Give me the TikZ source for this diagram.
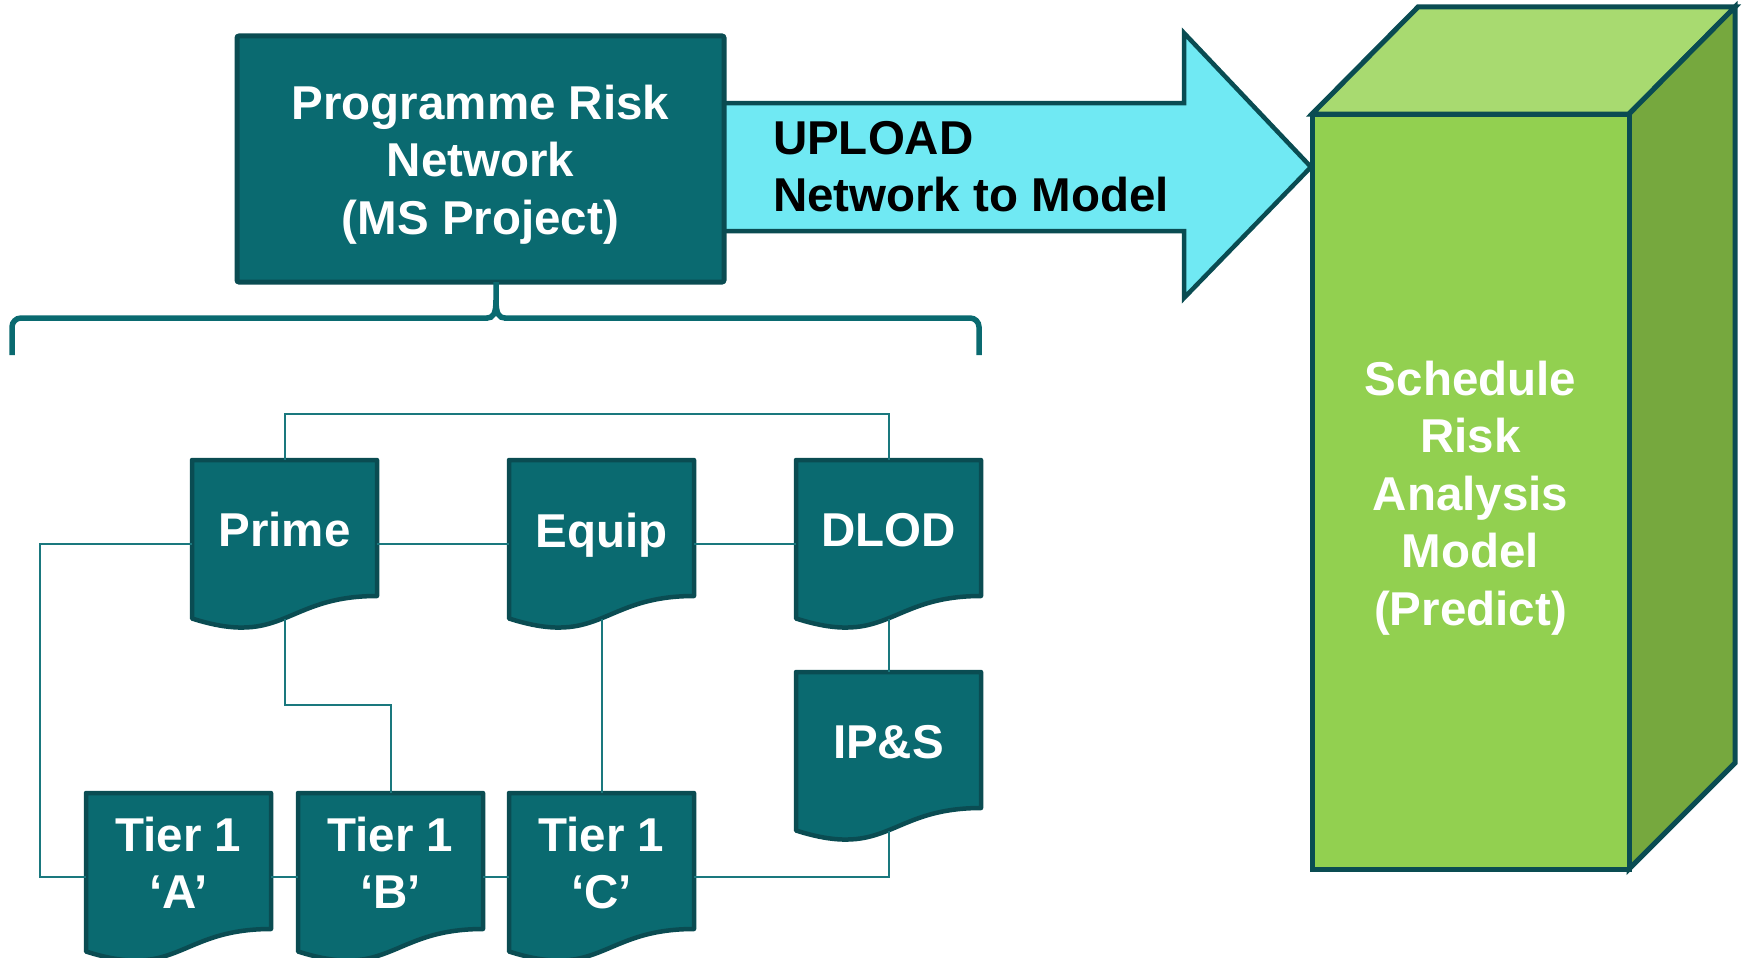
\documentclass[tikz,border=0pt]{standalone}
\usepackage{fontspec}
\setmainfont{Liberation Sans}
\definecolor{tealfill}{RGB}{10,106,112}
\definecolor{tealdark}{RGB}{10,76,82}
\definecolor{connteal}{RGB}{26,120,126}
\definecolor{arrowcyan}{RGB}{112,233,243}
\definecolor{gfront}{RGB}{146,208,80}
\definecolor{gtop}{RGB}{168,218,112}
\definecolor{gside}{RGB}{118,168,62}
\tikzset{
  bigfont/.style={font=\fontsize{47.5}{57.5}\selectfont\bfseries, inner sep=0, outer sep=0},
  docshape/.style={fill=tealfill, draw=tealdark, line width=4.5, line join=round},
  docnode/.style={bigfont, text=white, align=center, minimum width=185, minimum height=140, anchor=north west},
  conn/.style={draw=connteal, line width=2},
  bracestyle/.style={draw=tealfill, line width=5.5},
  cubeline/.style={draw=tealdark, line width=5, line join=miter},
}
\newcommand\docbox[4]{%
  \begin{scope}[shift={(#2,#3)}]
    \path[docshape] (0,0) -- (185,0) -- (185,136) .. controls (92.5,136) and (92.5,188) .. (0,158.5) -- cycle;
  \end{scope}
  \node[docnode] (#1) at (#2,#3) {#4};}
\begin{document}
\begin{tikzpicture}[x=1pt,y=-1pt]
\useasboundingbox (0,0) rectangle (1743,958);

% upload arrow
\fill[arrowcyan] (720,103) -- (1184,103) -- (1184,33) -- (1311,167) -- (1184,298) -- (1184,231) -- (720,231) -- cycle;
\draw[draw=tealdark, line width=4.5, line join=miter] (720,103) -- (1184,103) -- (1184,33) -- (1311,167) -- (1184,298) -- (1184,231) -- (720,231);
\node[bigfont, align=left, anchor=north west, text=black] (upload) at (773,121) {UPLOAD\\Network to Model};

% title box
\node[draw=tealdark, fill=tealfill, line width=5, rounded corners=2, minimum width=487, minimum height=246, inner sep=0, outer sep=0] (title) at (480.5,159) {};
\node[bigfont, align=center, anchor=north, text=white] (titletext) at (480.5,85) {Programme Risk\\Network\\(MS Project)};

% brace
\draw[bracestyle, rounded corners=9] (12,355) -- (12,318) -- (488,318);
\draw[bracestyle, rounded corners=9] (979,355) -- (979,318) -- (504,318);
\draw[bracestyle] (487,318) .. controls (493,318) and (496,314) .. (496,300) -- ([xshift=15.5]title.south);
\draw[bracestyle] (505,318) .. controls (499,318) and (496,314) .. (496,300);

% cube
\draw[cubeline, fill=gtop] (1312,114) -- (1418,7) -- (1735,7) -- (1629,114) -- cycle;
\draw[cubeline, fill=gside] (1629,114) -- (1735,7) -- (1735,763) -- (1629,869) -- cycle;
\draw[cubeline, fill=gfront] (1312,114) rectangle (1629,869);
\node[bigfont, align=center, anchor=north, text=white] (srm) at (1470.5,361) {Schedule\\Risk\\Analysis\\Model\\(Predict)};

% document boxes
\docbox{Prime}{192}{460}{Prime}
\docbox{Equip}{509}{460}{\raisebox{0pt}[\height][0pt]{Equip}}
\docbox{DLOD}{796}{460}{DLOD}
\docbox{IPS}{796}{672}{IP\&S}
\docbox{TierA}{86}{793}{Tier 1\\‘A’}
\docbox{TierB}{298}{793}{Tier 1\\‘B’}
\docbox{TierC}{509}{793}{Tier 1\\‘C’}

% connectors
\coordinate (lft) at (40,544);
\draw[conn] (Prime.north) -- ++(0,-46) -| (DLOD.north);
\draw[conn] ([yshift=-14]Prime.east) -- ([yshift=-14]Equip.west);
\draw[conn] ([yshift=-14]Equip.east) -- ([yshift=-14]DLOD.west);
\draw[conn] ([yshift=-14]Prime.west) -- (lft) |- ([yshift=-14]TierA.west);
\draw[conn] ([yshift=-14]TierA.east) -- ([yshift=-14]TierB.west);
\draw[conn] ([yshift=-14]TierB.east) -- ([yshift=-14]TierC.west);
\draw[conn] ([yshift=-14]TierC.east) -| ([yshift=-19]IPS.south);
\draw[conn] ([yshift=-19]DLOD.south) -- (IPS.north);
\draw[conn] ([yshift=-19]Prime.south) -- ++(0,86) -| (TierB.north);
\draw[conn] ([yshift=-19]Equip.south) -- (TierC.north);
\end{tikzpicture}
\end{document}
